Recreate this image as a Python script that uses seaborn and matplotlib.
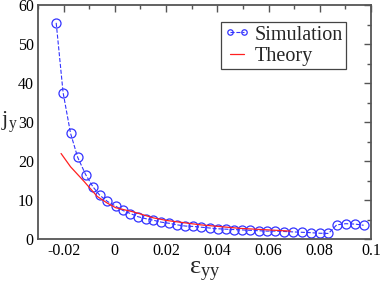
import matplotlib
matplotlib.use("Agg")
import matplotlib.pyplot as plt
import seaborn as sns
import pandas as pd
from matplotlib.ticker import MultipleLocator

sim_x = [-0.0229, -0.0202, -0.0173, -0.0145, -0.0114, -0.0086, -0.0059, -0.0029,
         0.0003, 0.0031, 0.0061, 0.0090, 0.0120, 0.0150, 0.0181, 0.0213, 0.0244,
         0.0275, 0.0306, 0.0338, 0.0370, 0.0402, 0.0434, 0.0465, 0.0498, 0.0529,
         0.0561, 0.0594, 0.0627, 0.0660, 0.0695, 0.0730, 0.0764, 0.0801, 0.0834,
         0.0866, 0.0901, 0.0938, 0.0971]
sim_y = [55.5, 37.6, 27.2, 21.0, 16.6, 13.5, 11.3, 9.7,
         8.5, 7.4, 6.6, 5.8, 5.3, 4.9, 4.4, 4.1, 3.7,
         3.4, 3.3, 3.1, 2.9, 2.7, 2.6, 2.5, 2.4, 2.3,
         2.2, 2.1, 2.1, 2.0, 1.9, 1.8, 1.7, 1.55, 1.5,
         3.7, 4.0, 3.9, 3.6]

theo_x = [-0.0210, -0.0173, -0.0121, -0.0069, -0.0030, 0.0003, 0.0074, 0.0150,
          0.0205, 0.0335, 0.0490, 0.0686]
theo_y = [22.0, 18.6, 14.9, 11.0, 9.3, 8.1, 7.0, 5.5,
          4.8, 3.7, 2.8, 2.1]

xticks = [-0.02, 0, 0.02, 0.04, 0.06, 0.08, 0.1]
xtick_labels = ['-0.02', '0', '0.02', '0.04', '0.06', '0.08', '0.1']
yticks = [0, 10, 20, 30, 40, 50, 60]
ytick_labels = ['0', '10', '20', '30', '40', '50', '60']

sns.set_style("white")
plt.rcParams['font.family'] = ['Liberation Serif', 'DejaVu Serif']
plt.rcParams['axes.unicode_minus'] = False
plt.rcParams['mathtext.fontset'] = 'custom'
plt.rcParams['mathtext.rm'] = 'Liberation Serif'
plt.rcParams['mathtext.it'] = 'Liberation Serif:italic'

fig = plt.figure(figsize=(3.82, 2.84), dpi=100)
ax = fig.add_axes([38 / 382, 1 - 239.3 / 284, (371 - 38) / 382, (239.3 - 5.3) / 284])

sim = pd.DataFrame({'x': sim_x, 'y': sim_y})
theo = pd.DataFrame({'x': theo_x, 'y': theo_y})

blue = '#3333ff'
sns.lineplot(data=sim, x='x', y='y', ax=ax, color=blue, linestyle='--', linewidth=0.8,
             marker='o', markersize=6.5, markerfacecolor='none', markeredgecolor=blue,
             markeredgewidth=0.9, label='Simulation', sort=False)
sns.lineplot(data=theo, x='x', y='y', ax=ax, color='#ff2020', linewidth=0.9,
             label='Theory', sort=False)

ax.set_xlim(-0.03, 0.1)
ax.set_ylim(0, 60)
ax.set_xticks(xticks)
ax.set_xticklabels(xtick_labels)
ax.set_yticks(yticks)
ax.set_yticklabels(ytick_labels)
ax.xaxis.set_minor_locator(MultipleLocator(0.01))
ax.yaxis.set_minor_locator(MultipleLocator(5))

for s in ax.spines.values():
    s.set_color('#555555')
    s.set_linewidth(1.3)
ax.tick_params(which='both', direction='in', top=True, right=True, colors='#555555',
               labelcolor='black', labelsize=11.5, pad=3)
ax.tick_params(which='major', length=5, width=1.0)
ax.tick_params(which='minor', length=3, width=1.0)

ax.set_xlabel('ε$_{\\mathrm{yy}}$', fontsize=19, labelpad=0)
ax.set_ylabel('j$_{\\mathrm{y}}$', fontsize=16, rotation=0, labelpad=6, va='center')

leg = ax.legend(loc='upper left', bbox_to_anchor=(0.55, 0.927), borderaxespad=0,
                fontsize=14.5, frameon=True, fancybox=False, framealpha=1,
                edgecolor='#444444', handlelength=1.3, handletextpad=0.2,
                borderpad=0.15, labelspacing=0.1, numpoints=2, markerscale=0.6)
leg.get_frame().set_linewidth(0.9)

fig.savefig('out.png', dpi=100)
